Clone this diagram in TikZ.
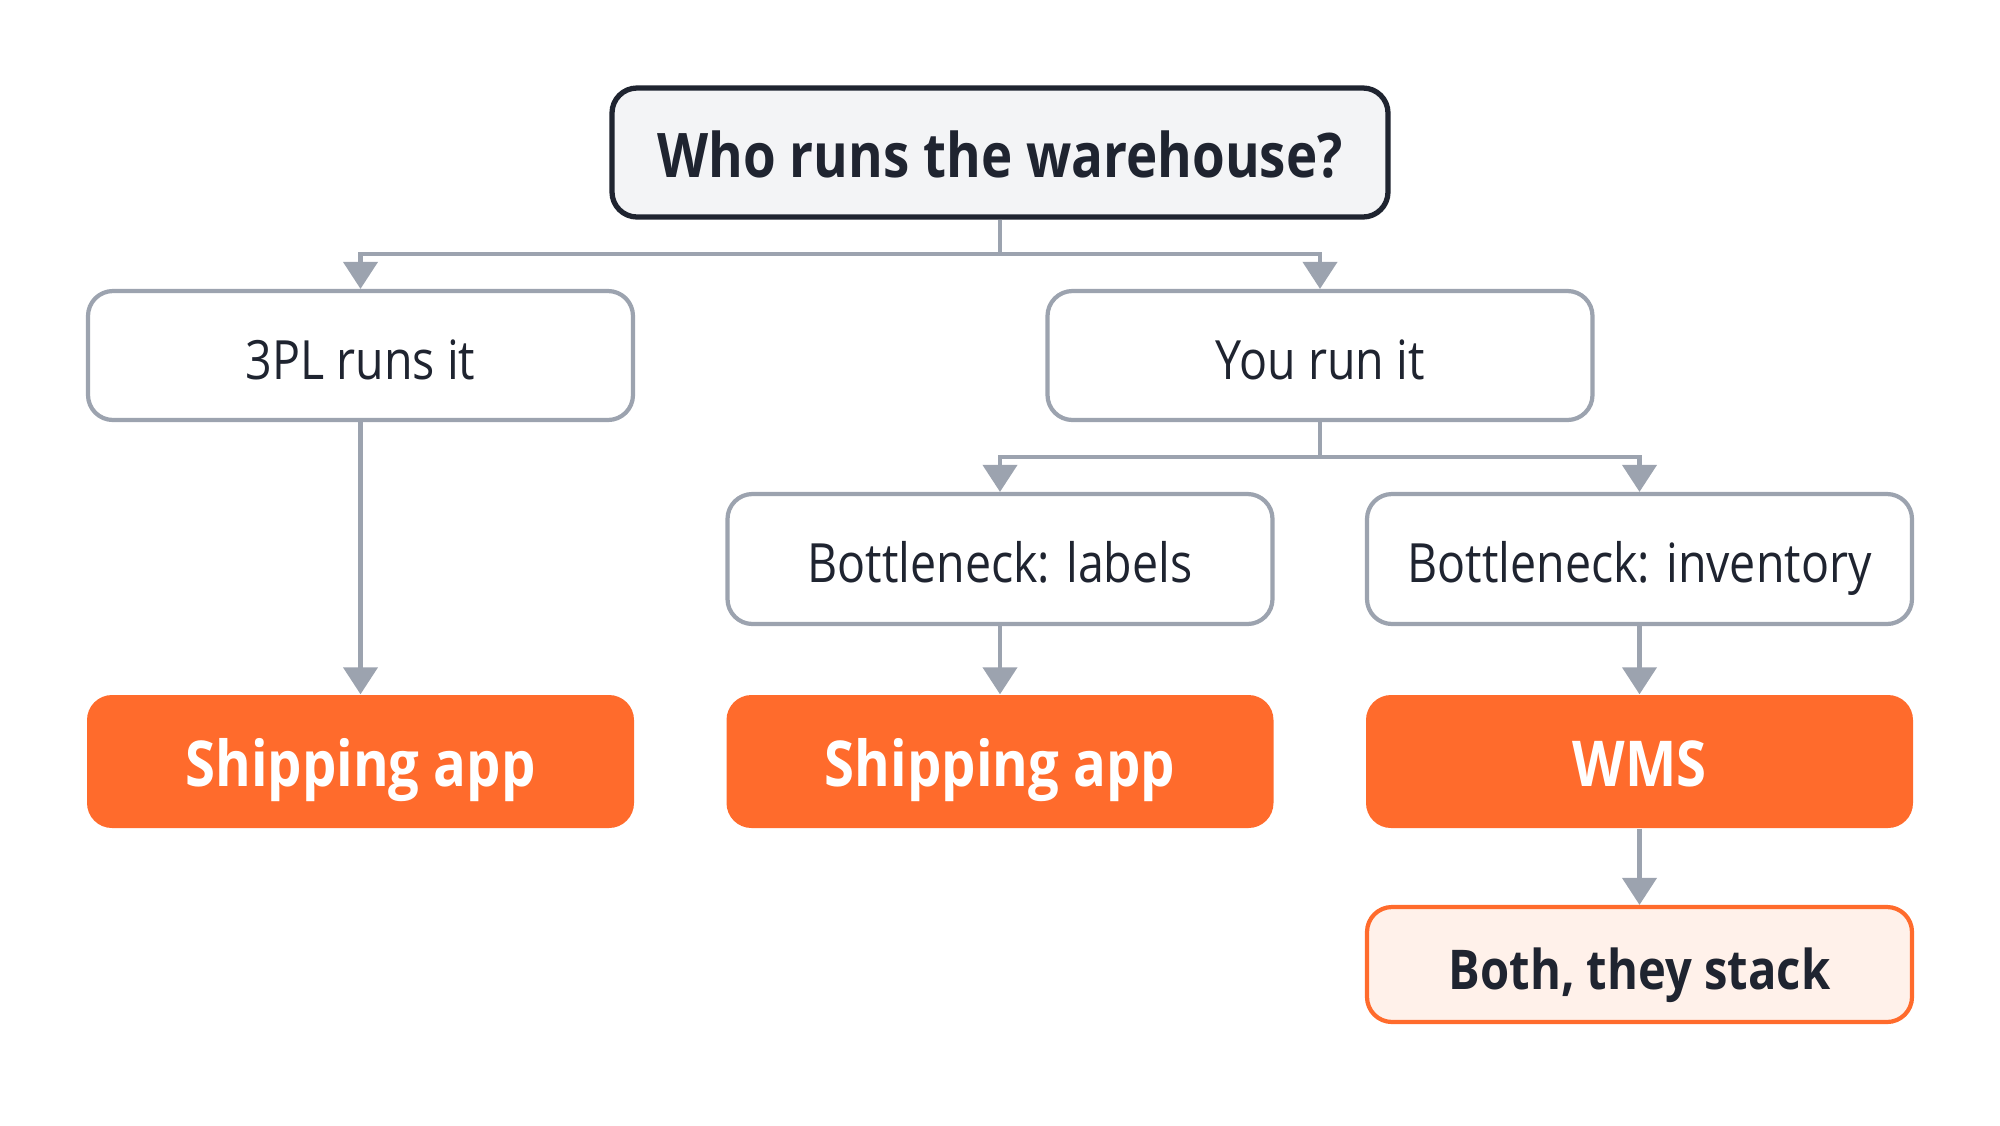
\documentclass[tikz,border=0pt]{standalone}
\usepackage{fontspec}
\setmainfont[FakeStretch=0.86]{Open Sans}
\usepackage{xcolor}
\usetikzlibrary{arrows.meta}

\definecolor{ink}{HTML}{1F2430}
\definecolor{wire}{HTML}{9CA3AF}
\definecolor{topfill}{HTML}{F3F4F6}
\definecolor{orng}{HTML}{FF6B2C}
\definecolor{peach}{HTML}{FFF1EA}

\begin{document}
\begin{tikzpicture}[
  box/.style={draw=wire, line width=1.2pt, rounded corners=0.25cm, fill=white,
    minimum width=5.45cm, minimum height=1.29cm, inner sep=0pt, text=ink,
    text height=13.4pt, text depth=0pt, font=\fontsize{15.4}{18}\selectfont},
  pick/.style={fill=orng, rounded corners=0.25cm, minimum width=5.47cm,
    minimum height=1.33cm, inner sep=0pt, text=white, text height=14pt,
    text depth=0pt, font=\fontsize{18}{21}\selectfont\bfseries},
  arr/.style={draw=wire, line width=1.2pt, -{Triangle[width=0.34cm,length=0.27cm]}}
]
\useasboundingbox (0,0) rectangle (20,-11.25) ;

\node[box, draw=ink, line width=1.5pt, fill=topfill, minimum width=7.76cm, text height=14pt,
  font=\fontsize{17.5}{21}\selectfont\bfseries] (who) at (10.00,-1.525) {Who runs the warehouse?} ;

\node[box] (tpl) at (3.605,-3.555) {3PL runs it} ;
\node[box] (you) at (13.20,-3.555) {You run it} ;

\node[box, minimum height=1.30cm] (lab) at (10.00,-5.59) {Bottleneck: labels} ;
\node[box, minimum height=1.30cm] (inv) at (16.395,-5.59) {Bottleneck: inventory} ;

\node[pick] (shipa) at (3.605,-7.615) {Shipping app} ;
\node[pick] (shipb) at (10.00,-7.615) {Shipping app} ;
\node[pick] (wms) at (16.395,-7.615) {WMS} ;

\node[box, draw=orng, fill=peach, minimum height=1.15cm, text height=14pt,
  font=\fontsize{15.6}{18}\selectfont\bfseries] (both) at (16.395,-9.645) {Both, they stack} ;

\coordinate (splita) at (10.00,-2.54) ;
\coordinate (splitb) at (13.20,-4.57) ;

\draw[arr] (who.south) -- (splita) -| (tpl.north) ;
\draw[arr] (who.south) -- (splita) -| (you.north) ;
\draw[arr] (tpl.south) -- (shipa.north) ;
\draw[arr] (you.south) -- (splitb) -| (lab.north) ;
\draw[arr] (you.south) -- (splitb) -| (inv.north) ;
\draw[arr] (lab.south) -- (shipb.north) ;
\draw[arr] (inv.south) -- (wms.north) ;
\draw[arr] (wms.south) -- (both.north) ;

\end{tikzpicture}
\end{document}
